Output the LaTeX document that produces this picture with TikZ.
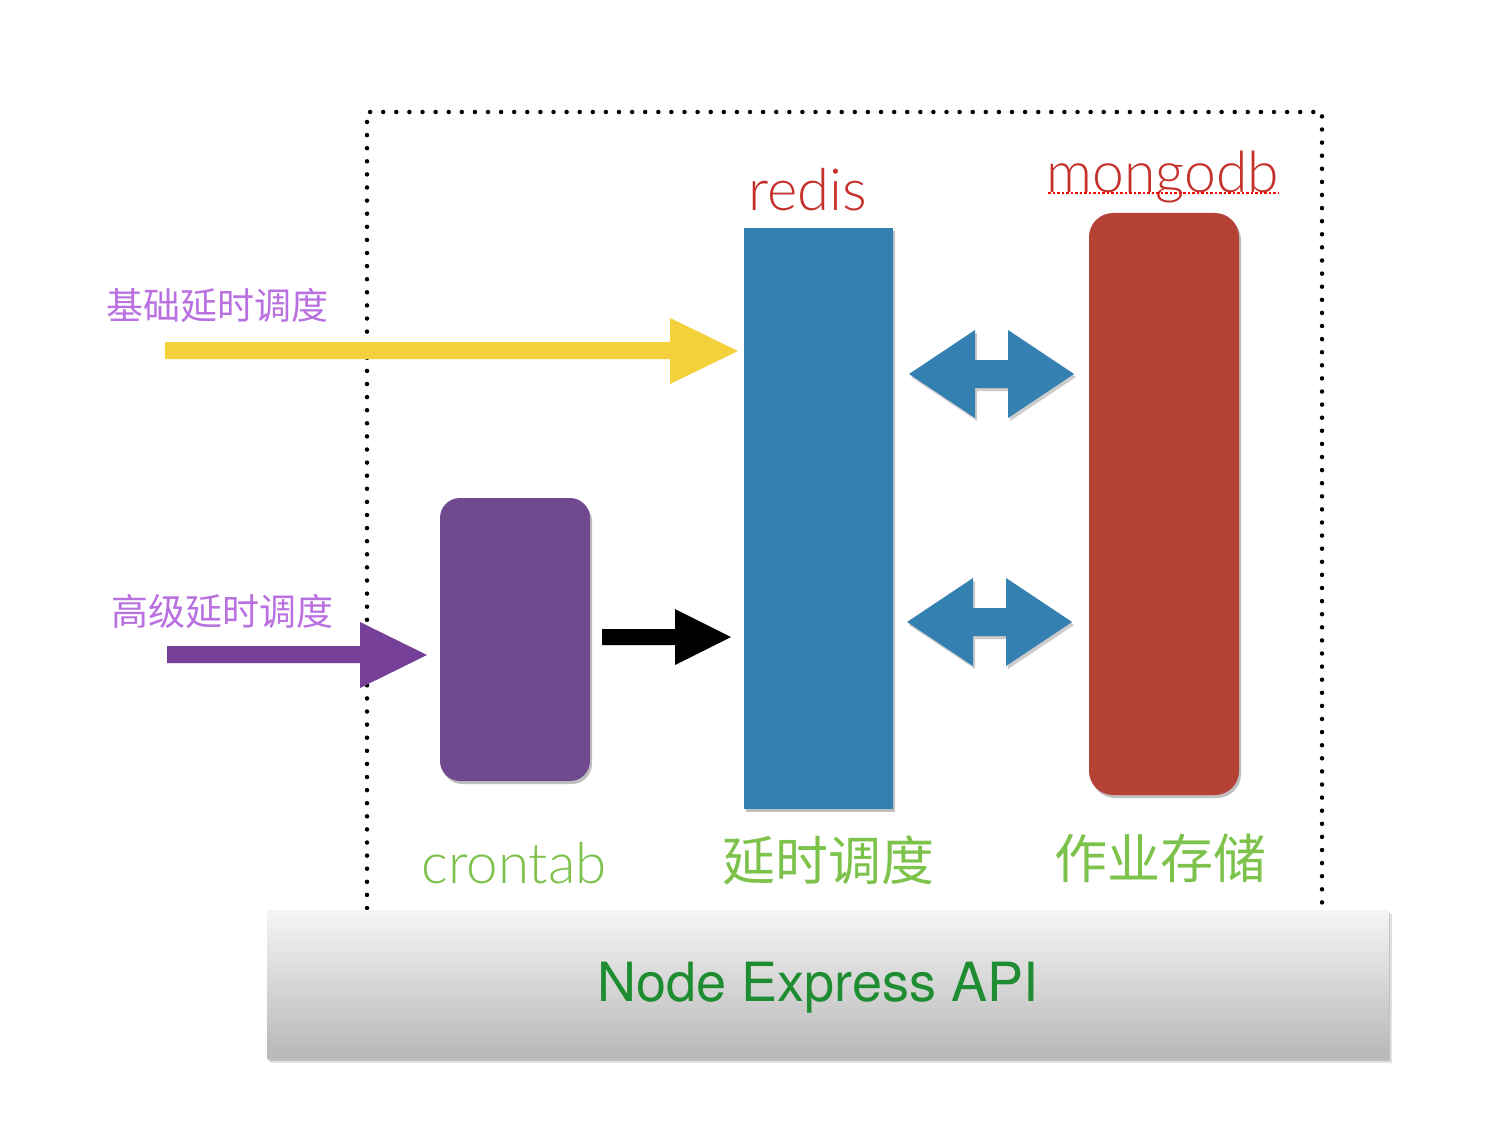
\documentclass[tikz,border=0pt]{standalone}
\usepackage{fontspec}
\setmainfont{Lato}[UprightFont=* Light]
\newfontfamily\heros{TeX Gyre Heros}
\newfontfamily\cjk{Noto Sans CJK SC}
\usetikzlibrary{shadows}
\definecolor{cyellow}{HTML}{F4D03A}
\definecolor{cpurple}{HTML}{764098}
\definecolor{cboxpurple}{HTML}{6F4A8E}
\definecolor{cblue}{HTML}{3480B0}
\definecolor{cred}{HTML}{B54335}
\definecolor{clabelred}{HTML}{C4302A}
\definecolor{clabelpurple}{HTML}{B970E0}
\definecolor{clabelgreen}{HTML}{7DC24B}
\definecolor{capigreen}{HTML}{1E8C30}
\tikzset{
  boxshadow/.style={drop shadow={shadow xshift=2pt,shadow yshift=-3pt,opacity=0.25,fill=black}},
  lbl/.style={inner sep=0pt,anchor=center},
}
\begin{document}
\begin{tikzpicture}[x=1pt,y=-1pt]
\useasboundingbox (0,0) rectangle (1502,1134);
\fill[white] (0,0) rectangle (1502,1134);
% dotted frame
\draw[line width=4.5pt,line cap=round,dash pattern=on 0pt off 13.1pt]
  (367,908) -- (367,112) -- (1322,112) -- (1322,908);
% boxes
\node[fill=cboxpurple,rounded corners=20pt,minimum width=150pt,minimum height=283pt,inner sep=0pt,boxshadow] (cron) at (515,639.5) {};
\node[fill=cblue,minimum width=149pt,minimum height=581pt,inner sep=0pt,boxshadow] (redis) at (818.5,518.5) {};
\node[fill=cred,rounded corners=24pt,minimum width=150pt,minimum height=582pt,inner sep=0pt,boxshadow] (mongo) at (1164,504) {};
% yellow arrow
\coordinate (yt) at (738,351);
\fill[cyellow] (165,342) -- (670,342) -- (670,318) -- (yt) -- (670,384) -- (670,359) -- (165,359) -- cycle;
% purple arrow
\coordinate (pt) at (427,655);
\fill[cpurple] (167,646) -- (360,646) -- (360,622) -- (pt) -- (360,688) -- (360,663) -- (167,663) -- cycle;
% black arrow
\coordinate (bt) at (731,637);
\fill[black] (602,629) -- (675,629) -- (675,609) -- (bt) -- (675,665) -- (675,645) -- (602,645) -- cycle;
% double arrows
\foreach \y/\dx in {374/0,622/-2}{
  \fill[cblue,drop shadow={shadow xshift=2pt,shadow yshift=-3pt,opacity=0.2,fill=black}]
   (909+\dx,\y) -- (975+\dx,\y-44) -- (975+\dx,\y-14) -- (1008+\dx,\y-14) -- (1008+\dx,\y-44)
   -- (1074+\dx,\y) -- (1008+\dx,\y+44) -- (1008+\dx,\y+14) -- (975+\dx,\y+14) -- (975+\dx,\y+44) -- cycle;
}
% labels
\node[lbl,text=clabelred,font=\fontsize{58}{58}\selectfont] (lredis) at (808,190) {redis};
\node[lbl,text=clabelred,font=\fontsize{57}{57}\selectfont] (lmongo) at (1163,177) {mongodb};
\draw[red,line width=2pt,dash pattern=on 2.5pt off 2pt] (1048,193) -- (1279,193);
\node[lbl,text=clabelpurple,font=\cjk\fontsize{37}{37}\selectfont] (lbasic) at (217,305) {基础延时调度};
\node[lbl,text=clabelpurple,font=\cjk\fontsize{37}{37}\selectfont] (ladv) at (222,611) {高级延时调度};
\node[lbl,text=clabelgreen,font=\fontsize{56.5}{56.5}\selectfont] (lcron) at (514,863) {crontab};
\node[lbl,text=clabelgreen,font=\cjk\fontsize{53}{53}\selectfont] (ldelay) at (828,860) {延时调度};
\node[lbl,text=clabelgreen,font=\cjk\fontsize{53}{53}\selectfont] (lstore) at (1160,858) {作业存储};
% API bar
\fill[black,opacity=0.12] (270,914) rectangle (1392,1063);
\fill[black,opacity=0.15] (268,912) rectangle (1390,1061);
\shade[top color=white!96!black,bottom color=white!72!black] (267,910) rectangle (1389,1058);
\node[lbl,text=capigreen,font=\heros\fontsize{54}{54}\selectfont] (api) at (818,988) {Node Express API};
\end{tikzpicture}
\end{document}
